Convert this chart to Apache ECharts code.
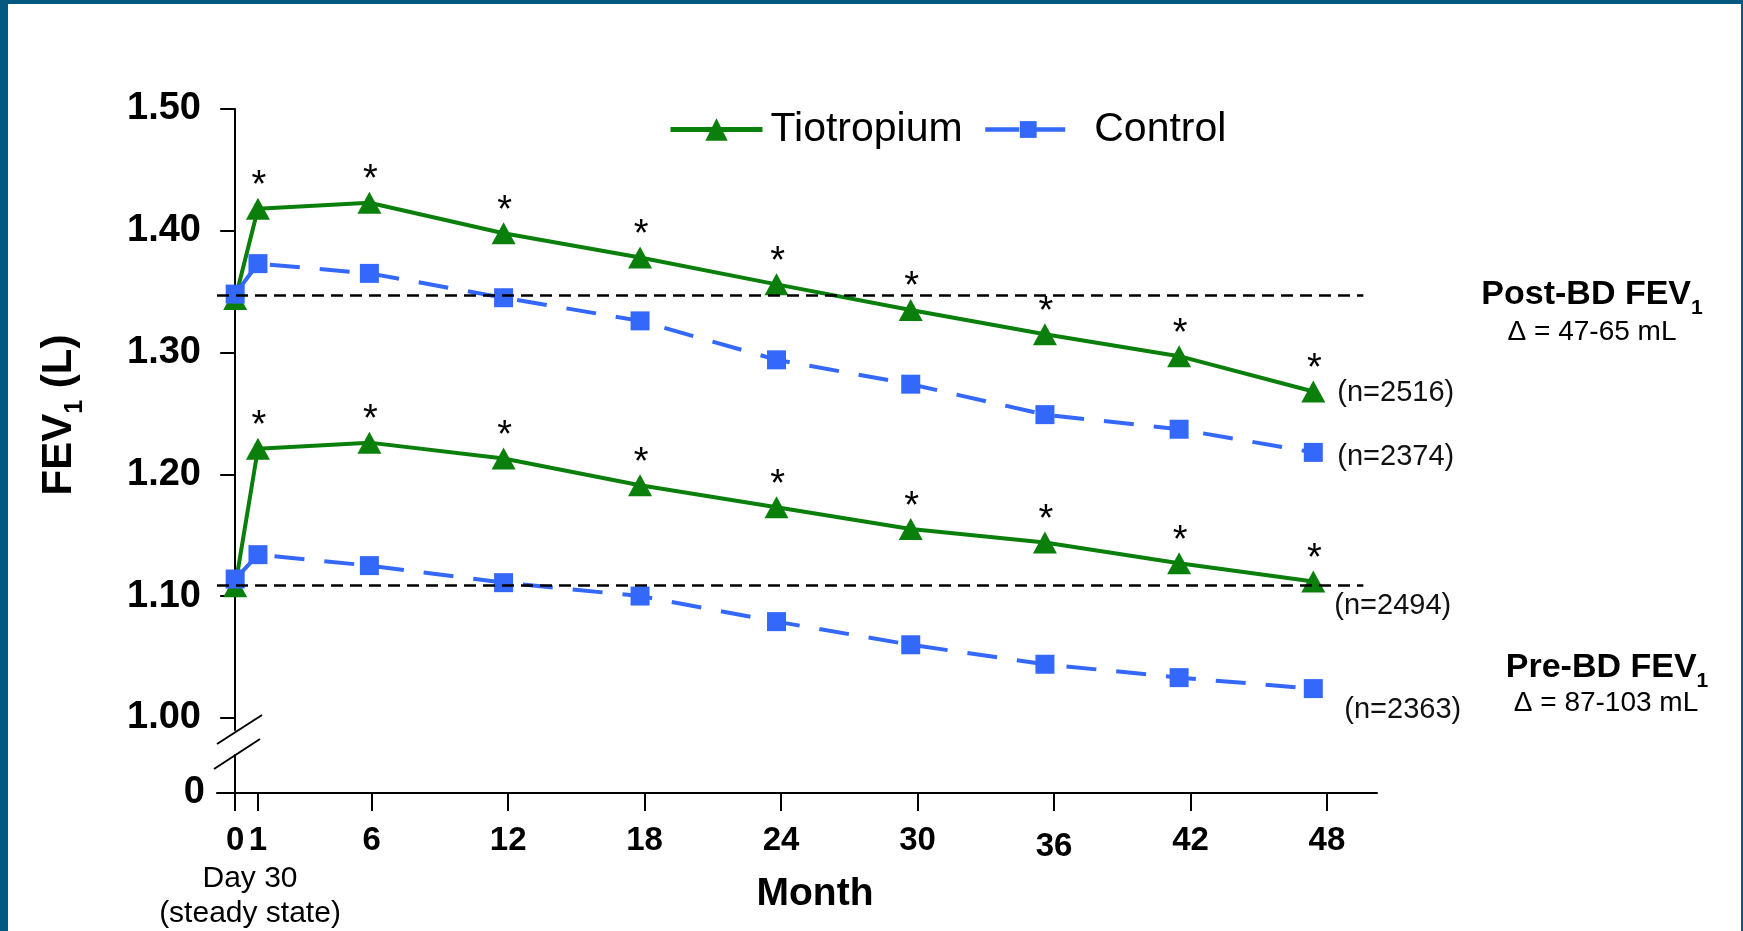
<!DOCTYPE html>
<html>
<head>
<meta charset="utf-8">
<title>FEV1 over 48 months</title>
<script src="https://cdn.jsdelivr.net/npm/echarts@6.0.0/dist/echarts.min.js"></script>
<style>
  html, body { margin: 0; padding: 0; background: #ffffff; }
  #wrap { position: relative; width: 1743px; height: 931px; }
  #chart { width: 1743px; height: 931px; }
  #frame {
    position: absolute; left: 0; top: 0; width: 1743px; height: 931px;
    box-sizing: border-box; pointer-events: none;
    border-left: 8px solid #03597f; border-top: 4px solid #03597f; border-right: 2px solid #03597f;
  }
</style>
</head>
<body>
<div id="wrap">
  <div id="chart"></div>
  <div id="frame"></div>
</div>
<script>
// months at which FEV1 was measured (as plotted)
const months = [0, 1, 5.9, 11.8, 17.8, 23.8, 29.7, 35.6, 41.5, 47.4];
// post-bronchodilator FEV1 (L)
const tioPost = [1.344, 1.418, 1.423, 1.398, 1.378, 1.356, 1.335, 1.315, 1.297, 1.268];
const ctrlPost = [1.348, 1.373, 1.365, 1.345, 1.326, 1.294, 1.274, 1.249, 1.237, 1.218];
// pre-bronchodilator FEV1 (L)
const tioPre = [1.108, 1.221, 1.226, 1.213, 1.191, 1.173, 1.155, 1.144, 1.127, 1.112];
const ctrlPre = [1.114, 1.134, 1.125, 1.111, 1.100, 1.079, 1.060, 1.044, 1.033, 1.024];
// dashed baselines
const postBase = 1.347;
const preBase = 1.109;
const baseEnd = 49.6;
// axis ticks
const xTicks = [0, 1, 6, 12, 18, 24, 30, 36, 42, 48];
const yTicks = [1.0, 1.1, 1.2, 1.3, 1.4, 1.5];
const yLowTicks = [0];
// end-of-line sample sizes
const nLabels = ['(n=2516)', '(n=2374)', '(n=2494)', '(n=2363)'];

const FONT = '"Liberation Sans", Arial, sans-serif';
const GREEN = '#0b7f0b';
const BLUE = '#3468fb';

const xMin = -0.8, xMax = 50.2;

function pts(ys) {
  return months.map((m, i) => [m, ys[i]]);
}

const starLabel = {
  show: true,
  position: 'top',
  distance: 0,
  offset: [1, 8],
  color: '#000',
  fontFamily: FONT,
  fontSize: 38,
  formatter: p => (p.dataIndex === 0 ? '' : '*')
};

function endLab(text, off) {
  return {
    show: true,
    distance: 0,
    offset: off,
    formatter: text,
    color: '#111',
    fontFamily: FONT,
    fontSize: 29,
    align: 'left',
    verticalAlign: 'middle'
  };
}

// rich text with a lowered subscript
function subRich(size, subSize, drop) {
  return {
    a: { fontFamily: FONT, fontSize: size, fontWeight: 'bold', fill: '#000', verticalAlign: 'bottom', padding: [0, 0, drop, 0] },
    b: { fontFamily: FONT, fontSize: subSize, fontWeight: 'bold', fill: '#000', verticalAlign: 'bottom' }
  };
}

const tioStyle = {
  type: 'line',
  name: 'Tiotropium',
  xAxisIndex: 0,
  yAxisIndex: 0,
  symbol: 'triangle',
  symbolSize: [24, 22],
  showAllSymbol: true,
  itemStyle: { color: GREEN },
  lineStyle: { color: GREEN, width: 4 },
  label: starLabel
};

const ctrlStyle = {
  type: 'line',
  name: 'Control',
  xAxisIndex: 0,
  yAxisIndex: 0,
  symbol: 'rect',
  symbolSize: 19,
  showAllSymbol: true,
  itemStyle: { color: BLUE },
  lineStyle: { color: BLUE, width: 4, type: [30, 20] }
};

const chart = echarts.init(document.getElementById('chart'));
chart.setOption({
  animation: false,
  backgroundColor: '#ffffff',
  textStyle: { fontFamily: FONT },
  grid: [
    { left: 217, right: 366, top: 109, height: 621 },
    { left: 217, right: 366, top: 755, height: 38 }
  ],
  legend: [
    {
      data: ['Tiotropium'],
      left: 663, top: 104,
      itemWidth: 92, itemHeight: 28,
      lineStyle: { width: 5 },
      textStyle: { fontSize: 41, color: '#000', padding: [0, 0, 0, 3] },
      selectedMode: false
    },
    {
      data: ['Control'],
      left: 978, top: 104,
      itemWidth: 86, itemHeight: 21,
      lineStyle: { width: 4.5, type: [34, 12] },
      textStyle: { fontSize: 41, color: '#000', padding: [0, 0, 0, 18] },
      selectedMode: false
    }
  ],
  xAxis: [
    { type: 'value', gridIndex: 0, min: xMin, max: xMax, show: false },
    {
      type: 'value', gridIndex: 1, min: xMin, max: xMax,
      axisLine: { onZero: false, lineStyle: { color: '#000', width: 2 } },
      axisTick: { customValues: xTicks, length: 18, lineStyle: { color: '#000', width: 2 } },
      axisLabel: {
        customValues: xTicks, margin: 31, color: '#000', fontSize: 33, fontWeight: 'bold',
        formatter: v => (v === 36 ? '{low|36}' : String(v)),
        rich: { low: { fontSize: 33, fontWeight: 'bold', padding: [6, 0, 0, 0] } }
      },
      splitLine: { show: false },
      name: 'Month', nameLocation: 'middle', nameGap: 82,
      nameTextStyle: { fontSize: 39, fontWeight: 'bold', color: '#000', padding: [0, 0, 0, 36] }
    }
  ],
  yAxis: [
    {
      type: 'value', gridIndex: 0, min: 0.99, max: 1.5,
      axisLine: { show: true, onZero: true, lineStyle: { color: '#000', width: 2 } },
      axisTick: { customValues: yTicks, length: 15, lineStyle: { color: '#000', width: 2 } },
      axisLabel: {
        customValues: yTicks, margin: 16, color: '#000', fontSize: 38, fontWeight: 'bold',
        formatter: v => v.toFixed(2)
      },
      splitLine: { show: false }
    },
    {
      type: 'value', gridIndex: 1, min: 0, max: 1,
      axisLine: { show: true, onZero: true, lineStyle: { color: '#000', width: 2 } },
      axisTick: { customValues: yLowTicks, length: 16, lineStyle: { color: '#000', width: 2 } },
      axisLabel: { customValues: yLowTicks, margin: 12, color: '#000', fontSize: 38, fontWeight: 'bold' },
      splitLine: { show: false }
    }
  ],
  series: [
    Object.assign({}, tioStyle, {
      data: pts(tioPost),
      endLabel: endLab(nLabels[0], [24, 2]),
      markLine: {
        silent: true,
        symbol: 'none',
        label: { show: false },
        lineStyle: { color: '#000', width: 2.5, type: [12, 7] },
        data: [
          [{ coord: [xMin, postBase] }, { coord: [baseEnd, postBase] }],
          [{ coord: [xMin, preBase] }, { coord: [baseEnd, preBase] }]
        ]
      }
    }),
    Object.assign({}, tioStyle, {
      data: pts(tioPre),
      endLabel: endLab(nLabels[2], [21, 25])
    }),
    Object.assign({}, ctrlStyle, {
      data: pts(ctrlPost),
      endLabel: endLab(nLabels[1], [24, 5])
    }),
    Object.assign({}, ctrlStyle, {
      data: pts(ctrlPre),
      endLabel: endLab(nLabels[3], [31, 21])
    })
  ],
  graphic: [
    {
      type: 'text', x: 63, y: 415, rotation: Math.PI / 2,
      style: {
        text: '{a|FEV}{b|1}{a| (L)}',
        align: 'center', verticalAlign: 'middle', fill: '#000',
        rich: subRich(42, 25, 7)
      }
    },
    {
      type: 'text', x: 1592, y: 298,
      style: {
        text: '{a|Post-BD FEV}{b|1}',
        align: 'center', verticalAlign: 'middle', fill: '#000',
        rich: subRich(34, 21, 7)
      }
    },
    {
      type: 'text', x: 1592, y: 332,
      style: { text: '\u0394 = 47-65 mL', align: 'center', verticalAlign: 'middle', fill: '#000', fontFamily: FONT, fontSize: 28 }
    },
    {
      type: 'text', x: 1607, y: 671,
      style: {
        text: '{a|Pre-BD FEV}{b|1}',
        align: 'center', verticalAlign: 'middle', fill: '#000',
        rich: subRich(34, 21, 7)
      }
    },
    {
      type: 'text', x: 1606, y: 703,
      style: { text: '\u0394 = 87-103 mL', align: 'center', verticalAlign: 'middle', fill: '#000', fontFamily: FONT, fontSize: 28 }
    },
    {
      type: 'text', x: 250, y: 879,
      style: { text: 'Day 30', align: 'center', verticalAlign: 'middle', fill: '#000', fontFamily: FONT, fontSize: 30 }
    },
    {
      type: 'text', x: 250, y: 914,
      style: { text: '(steady state)', align: 'center', verticalAlign: 'middle', fill: '#000', fontFamily: FONT, fontSize: 30 }
    },
    // axis break marks
    { type: 'line', shape: { x1: 217, y1: 744, x2: 262, y2: 715 }, style: { stroke: '#000', lineWidth: 2 } },
    { type: 'line', shape: { x1: 214, y1: 769, x2: 260, y2: 739 }, style: { stroke: '#000', lineWidth: 2 } }
  ]
});
</script>
</body>
</html>
